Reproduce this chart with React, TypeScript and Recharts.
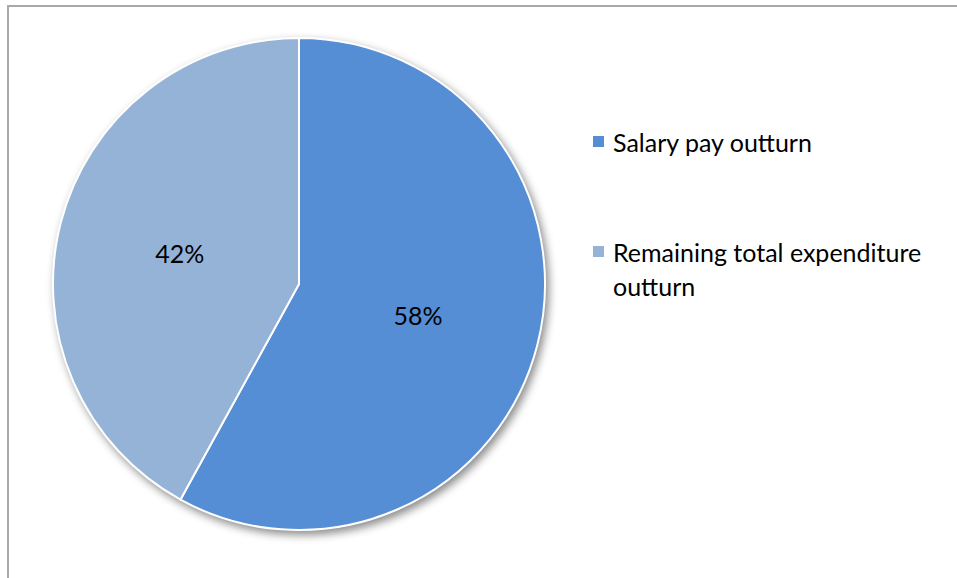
import React from "react";
import { PieChart, Pie, Cell, Legend } from "recharts";

const categories = ["Salary pay outturn", "Remaining total expenditure outturn"];
const shares = [58, 42];
const colors = ["#558ED5", "#95B3D7"];

const data = categories.map((name, i) => ({ name, value: shares[i] }));

const RADIAN = Math.PI / 180;
const FONT = "Lato, 'Open Sans', sans-serif";

const renderLabel = (props: any) => {
  const { cx, cy, midAngle, outerRadius, percent } = props;
  const r = outerRadius * 0.5;
  const x = cx + r * Math.cos(-midAngle * RADIAN);
  const y = cy + r * Math.sin(-midAngle * RADIAN);
  return (
    <text
      x={x}
      y={y}
      textAnchor="middle"
      dominantBaseline="central"
      fill="#000"
      fontFamily={FONT}
      fontSize={25}
    >
      {`${Math.round(percent * 100)}%`}
    </text>
  );
};

const renderLegend = () => (
  <div style={{ fontFamily: FONT, fontSize: 25, color: "#000" }}>
    {data.map((d, i) => (
      <div
        key={d.name}
        style={{
          display: "flex",
          alignItems: "flex-start",
          marginBottom: i === 0 ? 76 : 0,
        }}
      >
        <div
          style={{
            width: 11,
            height: 11,
            background: colors[i],
            marginTop: 11,
            marginRight: 9,
            flex: "0 0 auto",
          }}
        />
        <div style={{ lineHeight: "34px", width: 330 }}>{d.name}</div>
      </div>
    ))}
  </div>
);

export default function App() {
  return (
    <div
      style={{
        position: "absolute",
        left: 0,
        top: 0,
        width: 957,
        height: 578,
        background: "#fff",
        overflow: "hidden",
      }}
    >
      <style>{`.recharts-pie { filter: drop-shadow(3px 4px 4px rgba(0,0,0,0.45)); }`}</style>
      <div
        style={{
          position: "absolute",
          left: 7,
          top: 5,
          width: 960,
          height: 600,
          borderTop: "2px solid #a9a9a9",
          borderLeft: "2px solid #a9a9a9",
        }}
      />
      <div style={{ position: "absolute", left: 0, top: 0 }}>
        <PieChart width={957} height={578} margin={{ top: 0, right: 0, bottom: 0, left: 0 }}>
          <Pie
            data={data}
            dataKey="value"
            nameKey="name"
            cx={299}
            cy={284}
            outerRadius={246}
            startAngle={90}
            endAngle={-270}
            stroke="#ffffff"
            strokeWidth={2}
            label={renderLabel}
            labelLine={false}
            isAnimationActive={false}
          >
            {data.map((d, i) => (
              <Cell key={d.name} fill={colors[i]} />
            ))}
          </Pie>
          <Legend
            layout="vertical"
            align="right"
            verticalAlign="top"
            content={renderLegend}
            wrapperStyle={{ position: "absolute", left: 593, top: 125, width: 360 }}
          />
        </PieChart>
      </div>
    </div>
  );
}
